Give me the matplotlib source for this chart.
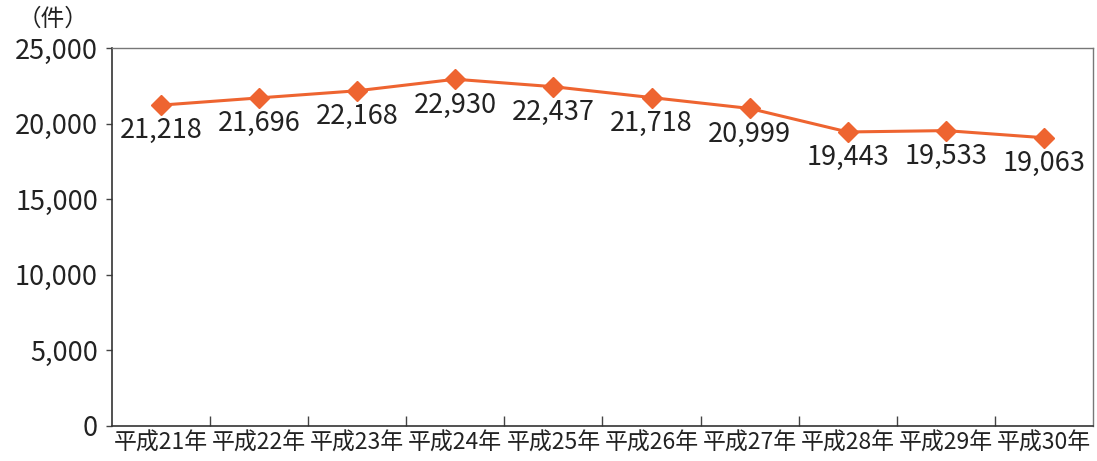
import matplotlib.pyplot as plt
import numpy as np

plt.rcParams['font.family'] = ['Noto Sans CJK JP', 'DejaVu Sans']

years = ["平成21年", "平成22年", "平成23年", "平成24年", "平成25年",
         "平成26年", "平成27年", "平成28年", "平成29年", "平成30年"]
counts = [21218, 21696, 22168, 22930, 22437, 21718, 20999, 19443, 19533, 19063]
yticks = [0, 5000, 10000, 15000, 20000, 25000]

color = '#EE6430'

fig = plt.figure(figsize=(10.97, 4.61), dpi=100)
ax = fig.add_axes([0.102, 0.076, 0.8944, 0.820])

x = np.arange(len(years))
ax.plot(x, counts, color=color, lw=2.2, marker='D', markersize=10.5, zorder=3)

# data labels under each point
for xi, v in zip(x, counts):
    ax.annotate(f"{v:,}", (xi, v), xytext=(0, -18.5), textcoords='offset points',
                ha='center', va='center', fontsize=19.5, color='#222222')

ax.set_xlim(-0.5, len(years) - 0.5)
ax.set_ylim(0, 25000)
ax.set_yticks(yticks)
ax.set_yticklabels([f"{t:,}" for t in yticks], fontsize=19.5, color='#222222')
ax.set_xticks(x)
ax.set_xticklabels(years, fontsize=16.5, color='#222222')
ax.tick_params(axis='x', length=0, pad=4)
ax.set_xticks(np.arange(0.5, len(years) - 0.5, 1), minor=True)
ax.tick_params(axis='x', which='minor', direction='in', length=7, color='#444444', width=1)
ax.tick_params(axis='y', direction='out', length=4, color='#444444', width=1, pad=6)

for s in ['left', 'bottom']:
    ax.spines[s].set_color('#333333')
    ax.spines[s].set_linewidth(1.2)
for s in ['top', 'right']:
    ax.spines[s].set_color('#777777')
    ax.spines[s].set_linewidth(1.0)

fig.text(0.048, 0.958, "（件）", fontsize=17, ha='center', va='center', color='#222222')

fig.savefig('out.png', dpi=100)
